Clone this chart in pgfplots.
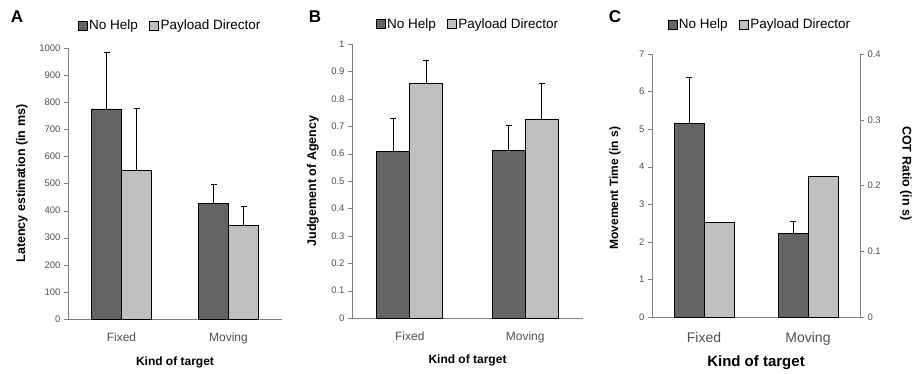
\documentclass[border=0pt]{standalone}
\usepackage{fontspec}
\setmainfont{Liberation Sans}
\usepackage{pgfplots}
\pgfplotsset{compat=1.18}
\definecolor{dark}{HTML}{646464}
\definecolor{light}{HTML}{C0C0C0}
\definecolor{axisgray}{HTML}{808080}
\definecolor{ticktext}{HTML}{505050}
\begin{document}
\begin{tikzpicture}[x=1pt,y=1pt]
\useasboundingbox (0pt,0pt) rectangle (912pt,373pt);
\pgfplotsset{
  panel/.style={
    scale only axis,
    ybar, 
    axis x line=bottom, axis y line=left,
    axis line style={axisgray,-},
    xmin=-0.5, xmax=1.5, ymin=0,
    xtick={0,1}, xticklabels={Fixed,Moving},
    extra x ticks={-0.5,0.5,1.5}, extra x tick labels={},
    extra x tick style={major tick length=5pt, tick style={axisgray}},
    tick align=outside,
    x tick style={draw=none},
    y tick style={axisgray},
    major tick length=4pt,
    /pgf/number format/assume math mode=true,
    /pgf/number format/1000 sep={},
    tick label style={text=ticktext},
    yticklabel style={font=\fontsize{9.5}{11}\selectfont},
    xticklabel style={font=\fontsize{12}{14}\selectfont, yshift=-6pt},
    ylabel style={font=\bfseries\fontsize{12.5}{14}\selectfont, anchor=center},
    xlabel style={font=\bfseries\fontsize{12}{14}\selectfont, anchor=center},
    legend columns=2,
    legend style={draw=none, fill=none, font=\fontsize{13.5}{16}\selectfont, anchor=west,
      nodes={inner xsep=1.5pt},
      /tikz/every even column/.append style={column sep=10pt}},
    legend image code/.code={\draw[#1,draw=black] (0pt,-4.5pt) rectangle (9pt,4.5pt);},
    error bars/y dir=plus, error bars/y explicit,
    error bars/error bar style={black, line width=0.6pt},
    error bars/error mark options={rotate=90, mark size=3pt, black, line width=0.6pt},
  },
  bardark/.style={fill=dark, draw=black, line width=0.6pt},
  barlight/.style={fill=light, draw=black, line width=0.6pt},
}
% ---------------- Panel A
\begin{axis}[panel, at={(68pt,54pt)}, anchor=south west, width=214pt, height=271pt,
  ymax=1000, ytick={0,100,...,1000},
  bar width=30pt,
  ylabel={Latency estimation (in ms)},
  ylabel style={at={(axis description cs:-0.215,0.5)}},
  xlabel={Kind of target},
  xlabel style={at={(axis description cs:0.5,-0.159)}},
  legend style={at={(axis description cs:0.032,1.082)}},
]
\addplot[bardark, bar shift=-15pt] coordinates {(0,775) +- (0,210) (1,428) +- (0,70)};
\addplot[barlight, bar shift=15pt] coordinates {(0,548) +- (0,230) (1,345) +- (0,70)};
\legend{No Help, Payload Director}
\end{axis}
\node[font=\bfseries\fontsize{17}{19}\selectfont] at (17pt,356pt) {A};
% ---------------- Panel B
\begin{axis}[panel, at={(352pt,55pt)}, anchor=south west, width=231pt, height=274pt,
  ymax=1, ytick={0,0.1,...,1.0},
  yticklabels={0,0.1,0.2,0.3,0.4,0.5,0.6,0.7,0.8,0.9,1},
  bar width=33pt,
  ylabel={Judgement of Agency},
  ylabel style={at={(axis description cs:-0.169,0.5)}},
  xlabel={Kind of target},
  xlabel style={at={(axis description cs:0.5,-0.153)}},
  legend style={at={(axis description cs:0.09,1.072)}},
]
\addplot[bardark, bar shift=-16.5pt] coordinates {(0,0.607) +- (0,0.123) (1,0.612) +- (0,0.091)};
\addplot[barlight, bar shift=16.5pt] coordinates {(0,0.855) +- (0,0.085) (1,0.727) +- (0,0.128)};
\legend{No Help, Payload Director}
\end{axis}
\node[font=\bfseries\fontsize{17}{19}\selectfont] at (315pt,356pt) {B};
% ---------------- Panel C
\begin{axis}[panel, at={(652pt,56pt)}, anchor=south west, width=208pt, height=263pt,
  ymax=7, ytick={0,1,...,7},
  bar width=30pt,
  xticklabel style={font=\fontsize{14}{16}\selectfont, yshift=-2pt},
  ylabel={Movement Time (in s)},
  ylabel style={at={(axis description cs:-0.178,0.49)}, font=\bfseries\fontsize{12}{14}\selectfont},
  xlabel={Kind of target},
  xlabel style={at={(axis description cs:0.5,-0.173)}, font=\bfseries\fontsize{15}{17}\selectfont},
  legend style={at={(axis description cs:0.061,1.112)}},
]
\addplot[bardark, bar shift=-15pt] coordinates {(0,5.15) +- (0,1.22) (1,2.22) +- (0,0.34)};
\addplot[barlight, bar shift=15pt] coordinates {(0,2.52) (1,3.75)};
\legend{No Help, Payload Director}
\end{axis}
\begin{axis}[scale only axis, at={(652pt,56pt)}, anchor=south west, width=208pt, height=263pt,
  xmin=-0.5, xmax=1.5, ymin=0, ymax=0.4,
  axis x line=none, axis y line*=right,
  axis line style={axisgray,-},
  ytick={0,0.1,...,0.4}, yticklabels={0,0.1,0.2,0.3,0.4},
  tick align=outside, major tick length=4pt,
  y tick style={axisgray},
  /pgf/number format/assume math mode=true,
  yticklabel style={font=\fontsize{9.5}{11}\selectfont, text=ticktext},
  ylabel={COT Ratio (in s)},
  ylabel style={at={(axis description cs:1.22,0.546)}, anchor=center, rotate=180, font=\bfseries\fontsize{12.5}{14}\selectfont},
]
\end{axis}
\node[font=\bfseries\fontsize{17}{19}\selectfont] at (615pt,356pt) {C};
\end{tikzpicture}
\end{document}
